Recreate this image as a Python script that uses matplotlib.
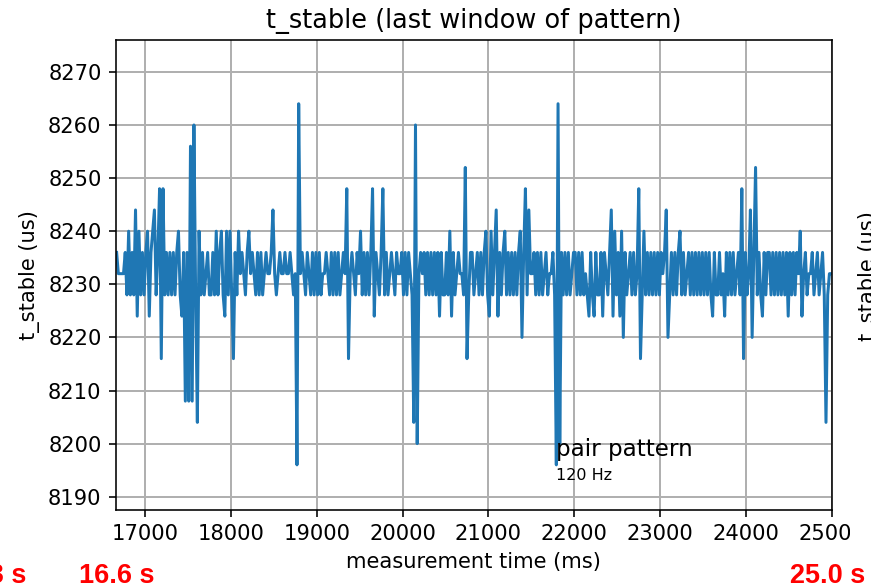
import numpy as np
import matplotlib
matplotlib.use("Agg")
import matplotlib.pyplot as plt
from matplotlib.patches import Rectangle

# t_stable per measurement window (us), one value per sample
t_stable_us = [
    8236, 8232, 8232, 8232, 8232, 8236, 8228, 8240, 8228, 8236, 8228, 8244,
    8224, 8240, 8228, 8236, 8228, 8236, 8240, 8224, 8236, 8240, 8244, 8228,
    8236, 8248, 8216, 8248, 8228, 8236, 8228, 8236, 8228, 8236, 8228, 8236,
    8240, 8228, 8224, 8236, 8208, 8236, 8208, 8256, 8208, 8260, 8228, 8204,
    8240,
    8228, 8236, 8228, 8232, 8236, 8228, 8228, 8236, 8228, 8240, 8228, 8236,
    8240, 8228, 8224, 8240, 8228, 8240, 8228, 8216, 8236, 8228, 8240, 8232,
    8236, 8232, 8228, 8236, 8240, 8232, 8236, 8232, 8228, 8236, 8228, 8236,
    8228, 8232, 8236, 8232, 8232, 8236, 8244, 8232, 8228, 8232, 8236, 8232,
    8232, 8236, 8232, 8232, 8236, 8232, 8228, 8232, 8196, 8264, 8232,
    8236, 8232, 8228, 8236, 8232, 8228, 8236, 8228, 8236, 8228, 8236, 8228,
    8232, 8232, 8236, 8232, 8228, 8236, 8228, 8236, 8228, 8236, 8228, 8232,
    8236, 8232, 8248, 8216, 8232, 8236, 8232, 8228, 8236, 8232, 8240, 8228,
    8236, 8228, 8236, 8228, 8236, 8248, 8224, 8236, 8232, 8228, 8236, 8248,
    8228, 8236, 8228, 8232, 8236, 8232, 8228, 8236, 8232, 8232,
    8236, 8228, 8236, 8228, 8236, 8232, 8228, 8204, 8260, 8200, 8232, 8236,
    8232, 8236, 8228, 8236, 8228, 8236, 8228, 8236, 8228, 8236, 8224, 8236,
    8228, 8228, 8236, 8228, 8240, 8224, 8236, 8228, 8232, 8236, 8232, 8232,
    8228, 8252, 8216, 8228, 8236, 8236, 8228, 8232, 8236, 8228, 8236, 8228,
    8236, 8240, 8228, 8224, 8240, 8228, 8236, 8244, 8224, 8236,
    8228, 8236, 8240, 8228, 8236, 8228, 8236, 8228, 8236, 8228, 8236, 8240,
    8220, 8236, 8248, 8228, 8244, 8232, 8232, 8236, 8228, 8236, 8228, 8236,
    8228, 8232, 8236, 8228, 8232, 8232, 8236, 8228, 8196, 8264, 8200, 8236,
    8228, 8236, 8228, 8236, 8228, 8232, 8236, 8236, 8228, 8236, 8228, 8236,
    8228, 8232, 8228, 8224, 8236, 8228, 8224, 8236, 8228, 8228,
    8236, 8224, 8236, 8232, 8228, 8236, 8244, 8224, 8240, 8228, 8236, 8224,
    8240, 8220, 8236, 8228, 8232, 8236, 8228, 8236, 8228, 8232, 8248, 8216,
    8228, 8240, 8228, 8236, 8228, 8236, 8228, 8236, 8228, 8236, 8228, 8236,
    8232, 8236, 8244, 8220, 8228, 8236, 8228, 8236, 8228, 8236, 8240, 8228,
    8236, 8228, 8232, 8236, 8228, 8236, 8228, 8236, 8228, 8236,
    8228, 8236, 8228, 8236, 8228, 8236, 8228, 8224, 8236, 8228, 8228, 8236,
    8228, 8232, 8224, 8236, 8228, 8236, 8228, 8236, 8228, 8232, 8236, 8228,
    8248, 8216, 8236, 8228, 8232, 8244, 8220, 8236, 8252, 8228, 8236, 8228,
    8224, 8236, 8228, 8236, 8236, 8228, 8236, 8228, 8236, 8228, 8236, 8228,
    8236, 8228, 8236, 8224, 8236, 8228, 8236, 8228, 8236, 8232, 8240, 8224,
    8232, 8236, 8228, 8232, 8232, 8236, 8228, 8232, 8236, 8228, 8232, 8236,
    8228, 8204, 8228, 8232, 8232,
]
t_start_ms = 16670
t_step_ms = 20

# pair pattern annotation (position of the deepest dip)
note_x_ms = 21785
note_lines = ["pair pattern", "120 Hz"]
note_y_us = [8197.7, 8193.2]

# slide labels below the chart
slide_marks = ["8.3 s", "16.6 s", "25.0 s"]

t_ms = t_start_ms + t_step_ms * np.arange(len(t_stable_us))

plt.rcParams["font.size"] = 10.5

W, H = 871, 584
fig = plt.figure(figsize=(W / 144, H / 144), dpi=144)
ax = fig.add_axes([115.6 / W, 1 - 510 / H, (832 - 115.6) / W, (510 - 40) / H])

ax.plot(t_ms, t_stable_us, color="#1f77b4", linewidth=1.5)
ax.set_xlim(16658, 25000)
ax.set_ylim(8187.5, 8276)
ax.set_xticks(range(17000, 25001, 1000))
ax.set_yticks(range(8190, 8271, 10))
ax.grid(True, color="#b0b0b0", linewidth=1.0)

ax.set_title("t_stable (last window of pattern)", fontsize=12.8)
ax.set_xlabel("measurement time (ms)")
ax.set_ylabel("t_stable (us)")

ax.text(note_x_ms, note_y_us[0], note_lines[0], fontsize=11.5, va="baseline")
ax.text(note_x_ms, note_y_us[1], note_lines[1], fontsize=8, va="baseline")

# neighbouring chart on the slide hides the right edge
fig.patches.append(Rectangle((850 / W, 40 / H), 21 / W, 1, transform=fig.transFigure,
                             facecolor="white", edgecolor="none", zorder=5))
fig.text(858 / W, 1 - 276 / H, "t_stable (us)", rotation=90, ha="left", va="center",
         fontsize=10.5, zorder=6)

red = dict(color="red", fontweight="bold", family="Liberation Sans", fontsize=13.5,
           va="top", zorder=6)
fig.text(26 / W, 1 - 563 / H, slide_marks[0], ha="right", **red)
fig.text(79 / W, 1 - 563 / H, slide_marks[1], ha="left", **red)
fig.text(790 / W, 1 - 563 / H, slide_marks[2], ha="left", **red)

fig.savefig("out.png", dpi=144)
